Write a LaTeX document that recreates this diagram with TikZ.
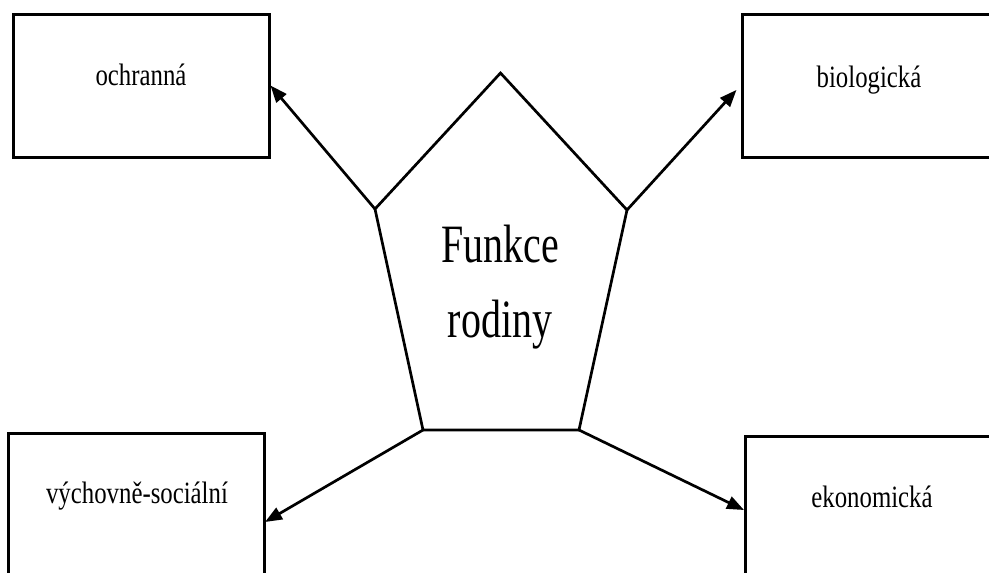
\documentclass[tikz,border=0pt]{standalone}
\usepackage{fontspec}
\setmainfont[FakeStretch=0.8]{Liberation Serif}
\newfontfamily\bigfont[FakeStretch=0.74]{Liberation Serif}
\usetikzlibrary{arrows.meta,calc}
\tikzset{
  box/.style={draw=black, line width=3pt, rectangle, minimum width=256pt, minimum height=143pt, inner sep=0pt},
  lbl/.style={anchor=base, inner sep=0pt, font=\fontsize{31}{36}\selectfont},
  biglbl/.style={anchor=base, inner sep=0pt, font=\bigfont\fontsize{54}{76}\selectfont},
  edge/.style={line width=2.7pt},
  arr/.style={line width=2.7pt, -{Triangle[length=17pt,width=13pt]}},
}
\begin{document}
\begin{tikzpicture}[x=1pt,y=-1pt]
\clip (0,0) rectangle (989,573);
\fill[white] (0,0) rectangle (989,573);
% boxes
\node[box] (och) at (141,85.5) {};
\node[box] (bio) at (870,85.5) {};
\node[box] (vych) at (136.5,504.5) {};
\node[box] (ekon) at (873,507.5) {};
% labels
\node[lbl] (ochT) at (141,85) {ochranná};
\node[lbl] (bioT) at (869,87) {biologická};
\node[lbl] (vychT) at (137,503) {výchovně-sociální};
\node[lbl] (ekonT) at (872,507) {ekonomická};
% pentagon
\coordinate (pT) at (500.5,73);
\coordinate (pR) at (627,210);
\coordinate (pBR) at (579,430);
\coordinate (pBL) at (423,430);
\coordinate (pL) at (375,209);
\draw[edge, line join=miter] (pT) -- (pR) -- (pBR) -- (pBL) -- (pL) -- cycle;
\node[biglbl] (f1) at (500,262) {Funkce};
\node[biglbl] (f2) at (500,337) {rodiny};
% arrows
\coordinate (vychIn) at (265,522);
\coordinate (ekonIn) at (744,510);
\draw[arr] (pL) -- (och.east);
\draw[arr, shorten >=6pt] (pR) -- (bio.west);
\draw[arr] (pBL) -- (vychIn);
\draw[arr] (pBR) -- (ekonIn);
\end{tikzpicture}
\end{document}
